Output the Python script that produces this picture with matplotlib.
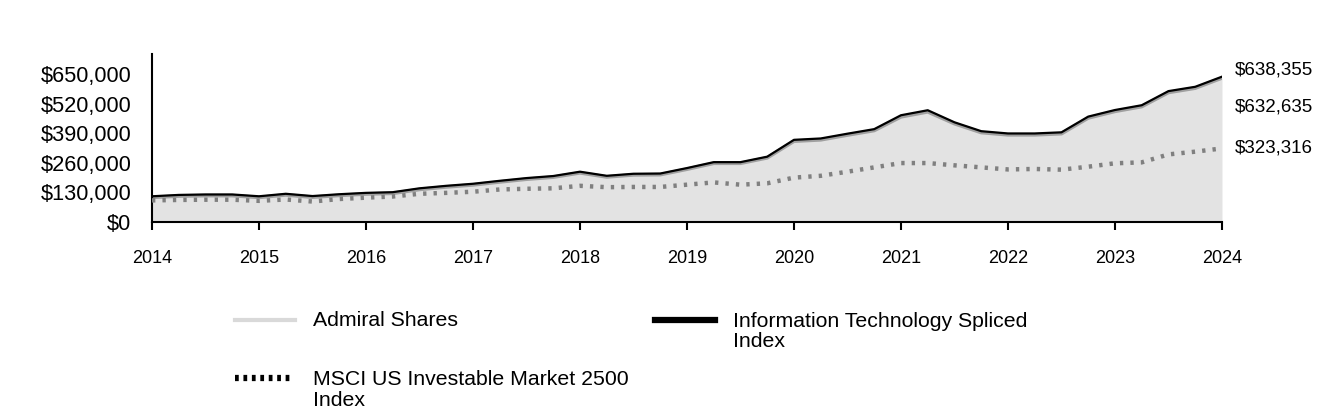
import numpy as np
import matplotlib
matplotlib.use("Agg")
import matplotlib.pyplot as plt
from matplotlib.lines import Line2D
from matplotlib.ticker import FuncFormatter

plt.rcParams['font.family'] = ['Liberation Sans', 'DejaVu Sans']

# quarterly growth of a $100,000 investment
quarters = np.arange(2014, 2024.01, 0.25)

admiral = [108000, 114000, 116000, 116000, 108000, 119000, 109000, 117000, 123000, 126000,
           143000, 154000, 163000, 176000, 188000, 197000, 216000, 198000, 207000, 208000,
           232000, 258000, 258000, 282000, 355000, 361000, 382000, 402000, 462000, 484000,
           432000, 393000, 383000, 383000, 388000, 457000, 486000, 507000, 569000, 588000,
           632635]
index_spliced = [113000, 119000, 121000, 121000, 113000, 124000, 114000, 122000, 128000, 131000,
                 148000, 159000, 168000, 181000, 193000, 202000, 221000, 203000, 212000, 213000,
                 237000, 263000, 263000, 287000, 361000, 367000, 388000, 408000, 469000, 491000,
                 438000, 399000, 389000, 389000, 394000, 463000, 492000, 513000, 575000, 594000,
                 638355]
msci = [95000, 97000, 98000, 98000, 93000, 99000, 90000, 101000, 107000, 112000,
        124000, 128000, 133000, 143000, 146000, 148000, 159000, 153000, 154000, 154000,
        164000, 174000, 164000, 170000, 195000, 203000, 221000, 240000, 259000, 259000,
        249000, 240000, 231000, 233000, 230000, 243000, 258000, 262000, 297000, 309000,
        323316]

year_ticks = [2014, 2015, 2016, 2017, 2018, 2019, 2020, 2021, 2022, 2023, 2024]
value_ticks = [0, 130000, 260000, 390000, 520000, 650000]

fig = plt.figure(figsize=(13.44, 4.2), dpi=100)
ax = fig.add_axes([0.1131, 0.4714, 0.7961, 0.40])

ax.fill_between(quarters, admiral, 0, color='#e3e3e3', lw=0, zorder=1)
ax.plot(quarters, admiral, color='#a0a0a0', lw=2.6, zorder=2)
ax.plot(quarters, msci, color='#808080', lw=3.2, linestyle=(0, (0.75, 1.6)), zorder=3)
ax.plot(quarters, index_spliced, color='black', lw=1.6, zorder=4)

ax.set_xlim(2014, 2024)
ax.set_ylim(0, 738000)
ax.set_xticks(year_ticks)
ax.set_yticks(value_ticks)
ax.yaxis.set_major_formatter(FuncFormatter(lambda v, p: f"${v:,.0f}"))
ax.tick_params(axis='y', length=0, pad=15, labelsize=15.7)
ax.tick_params(axis='x', length=6, width=1.5, pad=14, labelsize=13)
for s in ['top', 'right']:
    ax.spines[s].set_visible(False)
for s in ['left', 'bottom']:
    ax.spines[s].set_linewidth(1.5)

# end-of-period labels
ends = [(index_spliced[-1], 5), (admiral[-1], -21), (msci[-1], 0)]
for val, dy in ends:
    ax.annotate(f"${val:,.0f}", xy=(quarters[-1], val), xytext=(9, dy),
                textcoords='offset points', va='center', ha='left', fontsize=13.5,
                annotation_clip=False)

# legend drawn by hand to match the two-column layout
W, H = 1344, 420
def fx(px):
    return px / W
def fy(py):
    return 1 - py / H

fig.add_artist(Line2D([fx(235), fx(295)], [fy(320), fy(320)], color='#d9d9d9', lw=3,
                      transform=fig.transFigure))
fig.add_artist(Line2D([fx(655), fx(715)], [fy(320), fy(320)], color='black', lw=4.5,
                      transform=fig.transFigure))
fig.add_artist(Line2D([fx(235), fx(292)], [fy(378), fy(378)], color='black', lw=4.5,
                      linestyle=(0, (0.6, 0.75)), transform=fig.transFigure))
fig.text(fx(313), fy(320), "Admiral Shares", fontsize=15.3, va='center', ha='left')
fig.text(fx(733), fy(331.5), "Information Technology Spliced\nIndex", fontsize=15.3,
         va='center', ha='left', linespacing=1.13)
fig.text(fx(313), fy(390), "MSCI US Investable Market 2500\nIndex", fontsize=15.3,
         va='center', ha='left', linespacing=1.13)

fig.savefig("out.png", dpi=100)
